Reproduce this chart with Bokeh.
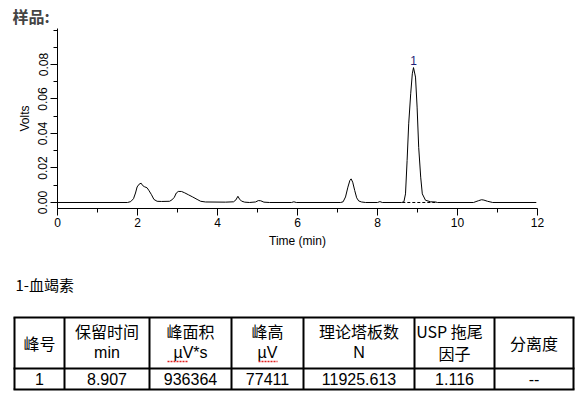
from bokeh.plotting import figure
from bokeh.models import Range1d, FixedTicker, NumeralTickFormatter, ColumnDataSource
from bokeh.core.properties import value
from bokeh.embed import file_html
from bokeh.resources import INLINE

# ---- chromatogram trace ----
time_min = [0.00, 1.75, 1.83, 1.90, 1.95, 1.99, 2.04, 2.09, 2.13, 2.17, 2.24, 2.29, 2.35, 2.41, 2.49,
            2.60, 2.80, 2.86, 2.92, 2.97, 3.02, 3.10, 3.18, 3.28, 3.38, 3.49, 3.58, 3.70, 4.20, 4.40,
            4.46, 4.51, 4.55, 4.60, 4.68, 4.80, 4.95, 5.02, 5.08, 5.16, 5.30, 5.85, 5.91, 5.97, 7.08,
            7.14, 7.20, 7.26, 7.31, 7.34, 7.38, 7.43, 7.48, 7.53, 7.60, 7.70, 8.00, 8.06, 8.12, 8.60,
            8.66, 8.70, 8.74, 8.78, 8.83, 8.87, 8.90, 8.95, 8.99, 9.03, 9.08, 9.12, 9.20, 9.33, 9.45,
            9.50, 10.40, 10.52, 10.60, 10.66, 10.75, 10.88, 11.97]
volts = [0.0, 0.0, 0.0005, 0.0022, 0.0055, 0.0090, 0.0106, 0.0112, 0.0098, 0.0092, 0.0085, 0.0068, 0.0045, 0.0018, 0.0007,
         0.0006, 0.0007, 0.0015, 0.0030, 0.0055, 0.0064, 0.0064, 0.0056, 0.0044, 0.0032, 0.0018, 0.0007, 0.0003, 0.0002, 0.0004,
         0.0015, 0.0036, 0.0020, 0.0008, 0.0002, 0.0, 0.0003, 0.0011, 0.0010, 0.0002, 0.0, 0.0, 0.0004, 0.0, 0.0,
         0.0004, 0.0032, 0.0089, 0.0128, 0.0137, 0.0118, 0.0070, 0.0027, 0.0009, 0.0003, 0.0, 0.0, 0.0005, 0.0, 0.0,
         0.0004, 0.0050, 0.0243, 0.0456, 0.0630, 0.0746, 0.0782, 0.0727, 0.0553, 0.0320, 0.0147, 0.0050, 0.0013, 0.0004, 0.0003,
         0.0, 0.0, 0.0010, 0.0016, 0.0014, 0.0007, 0.0, 0.0]
assert len(time_min) == len(volts)

peak_labels = ["1"]
peak_rt = [8.90]
peak_top = [0.0782]
peak_base_t = [8.62, 9.45]
peak_base_v = [0.0, 0.0]

x_ticks = [0, 2, 4, 6, 8, 10, 12]
x_minor = [1, 3, 5, 7, 9, 11]
y_ticks = [0.00, 0.02, 0.04, 0.06, 0.08]
y_minor = [0.01, 0.03, 0.05, 0.07, 0.09, 0.10]

sample_title = "样品:"
compound_name = "1-血竭素"
header_line1 = ["峰号", "保留时间", "峰面积", "峰高", "理论塔板数", "USP 拖尾", "分离度"]
header_line2 = ["", "min", "µV*s", "µV", "N", "因子", ""]
row_values = ["1", "8.907", "936364", "77411", "11925.613", "1.116", "--"]

LAT = "Liberation Sans"
CJK = "Noto Sans CJK SC"

# ---- chart ----
p = figure(width=584, height=270, output_backend="svg", toolbar_location=None,
           x_range=Range1d(0, 12), y_range=Range1d(-0.00348, 0.10087),
           min_border_left=57, min_border_right=47, min_border_top=28, min_border_bottom=62)
p.outline_line_color = None
p.grid.visible = False
p.background_fill_color = "white"

p.title.text = sample_title
p.title.text_font = CJK
p.title.text_font_size = "16px"
p.title.text_font_style = "bold"
p.title.align = "left"
p.title.offset = -45
p.title.standoff = 2

p.line(time_min, volts, line_color="black", line_width=1)
p.line(peak_base_t, peak_base_v, line_color="black", line_width=1, line_dash="3 2")
p.text(x=peak_rt, y=peak_top, text=peak_labels, text_align="center", text_baseline="bottom",
       y_offset=-3, text_font=value(LAT), text_font_size="12px", text_color="#1e1e78")

for ax in (p.xaxis[0], p.yaxis[0]):
    ax.major_tick_in = 0
    ax.minor_tick_in = 0
    ax.major_tick_out = 7
    ax.minor_tick_out = 4
    ax.major_label_text_font = LAT
    ax.major_label_text_font_size = "12px"
    ax.major_label_text_color = "black"
    ax.axis_label_text_font = LAT
    ax.axis_label_text_font_size = "12px"
    ax.axis_label_text_font_style = "normal"
    ax.axis_label_text_color = "black"
    ax.axis_line_color = "black"
    ax.major_tick_line_color = "black"
    ax.minor_tick_line_color = "black"

p.xaxis.ticker = FixedTicker(ticks=x_ticks, minor_ticks=x_minor)
p.yaxis.ticker = FixedTicker(ticks=y_ticks, minor_ticks=y_minor)
p.yaxis.formatter = NumeralTickFormatter(format="0.00")
p.yaxis.major_label_orientation = "vertical"
p.xaxis.axis_label = "Time (min)"
p.yaxis.axis_label = "Volts"
p.xaxis.major_label_standoff = 2
p.xaxis.axis_label_standoff = 4
p.yaxis.major_label_standoff = 3
p.yaxis.axis_label_standoff = 4

# ---- table (page-pixel coordinates) ----
t = figure(width=584, height=128, output_backend="svg", toolbar_location=None,
           x_range=Range1d(0, 584), y_range=Range1d(398, 270), min_border=0)
t.axis.visible = False
t.grid.visible = False
t.outline_line_color = None

col_edges = [14, 64, 149, 231, 303, 414, 494, 573]
row_edges = [317, 368, 389]
t.segment(x0=col_edges, y0=[row_edges[0]] * 8, x1=col_edges, y1=[row_edges[-1]] * 8,
          line_color="black", line_width=2)
t.segment(x0=[col_edges[0] - 1] * 3, y0=row_edges, x1=[col_edges[-1] + 1] * 3, y1=row_edges,
          line_color="black", line_width=2)

centers = [(a + b) / 2 for a, b in zip(col_edges[:-1], col_edges[1:])]

def has_cjk(s):
    return any(ord(ch) > 0x2E80 for ch in s)

t.text(x=[15], y=[284], text=[compound_name], text_align="left", text_baseline="middle",
       text_font=value(CJK), text_font_size="15px", text_color="black")

two_line = [i for i in range(7) if header_line2[i] != ""]
one_line = [i for i in range(7) if header_line2[i] == ""]

xs, ys, txt, fonts = [], [], [], []
for i in two_line:
    xs.append(449 if i == 5 else centers[i]); ys.append(330); txt.append(header_line1[i])
    fonts.append(CJK if has_cjk(header_line1[i]) else LAT)
    xs.append(centers[i]); ys.append(352); txt.append(header_line2[i])
    fonts.append(CJK if has_cjk(header_line2[i]) else LAT)
for i in one_line:
    xs.append(centers[i]); ys.append(342); txt.append(header_line1[i]); fonts.append(CJK)
for i in range(7):
    xs.append(centers[i]); ys.append(378); txt.append(row_values[i]); fonts.append(LAT)

src = ColumnDataSource(dict(x=xs, y=ys, text=txt, font=fonts))
t.text(x="x", y="y", text="text", source=src, text_align="center", text_baseline="middle",
       text_font="font", text_font_size="16px", text_color="black")

# spell-check style red underline beneath the µV units
t.segment(x0=[167, 258], y0=[361, 361], x1=[187, 277], y1=[361, 361],
          line_color="#e02020", line_width=1.5, line_dash="2 1")

open("out.html", "w").write(file_html([p, t], INLINE))
